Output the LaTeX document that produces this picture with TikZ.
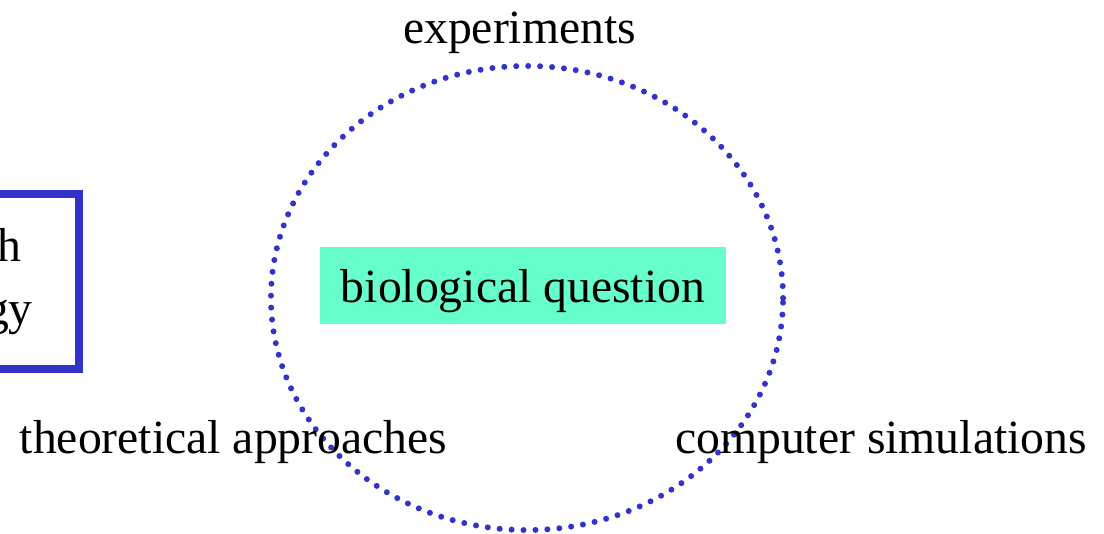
\documentclass[tikz,border=0pt]{standalone}
\usepackage{fontspec}
\setmainfont{Liberation Serif}
\usetikzlibrary{positioning, shapes.geometric}

\definecolor{dotblue}{RGB}{51,51,204}
\definecolor{qgreen}{RGB}{102,255,204}

\begin{document}
\begin{tikzpicture}[
    x=0.025cm, y=-0.025cm,
    lbl/.style={inner sep=0pt, font=\fontsize{33.9}{41}\selectfont},
    question/.style={lbl, fill=qgreen, minimum width=10.15cm,
                     text height=1.375cm, text depth=0.55cm},
    stratbox/.style={rectangle, draw=dotblue, line width=0.2cm, outer sep=0pt,
                     minimum width=4.975cm, minimum height=4.375cm},
    cyclering/.style={ellipse, draw=dotblue, line width=0.15cm,
                      line cap=round, dash pattern=on 0pt off 8.5pt,
                      minimum width=12.8cm, minimum height=11.6cm,
                      inner sep=0pt, outer sep=0pt}
]

%% --- Cadru ---
\path[use as bounding box, clip] (0,0) rectangle (1104,533);

%% --- Caseta stanga (taiata) ---
\node[stratbox, anchor=east] (strategy) at (79,281.5) {};
\node[lbl, anchor=base east] (strat_top) at (22,261) {h};
\node[lbl, anchor=base east] (strat_bot) at (33,324) {gy};

%% --- Ciclul ---
\node[cyclering] (cycle) at (527,298) {};

%% --- Intrebarea ---
\node[question, anchor=base] (bioq) at (523,302) {biological question};

%% --- Etichete ---
\node[lbl, anchor=base] (exper)  at (519.5,43) {experiments};
\node[lbl, anchor=base] (theory) at (233.5,453) {theoretical approaches};
\node[lbl, anchor=base] (simul)  at (881,453) {computer simulations};

\end{tikzpicture}
\end{document}
